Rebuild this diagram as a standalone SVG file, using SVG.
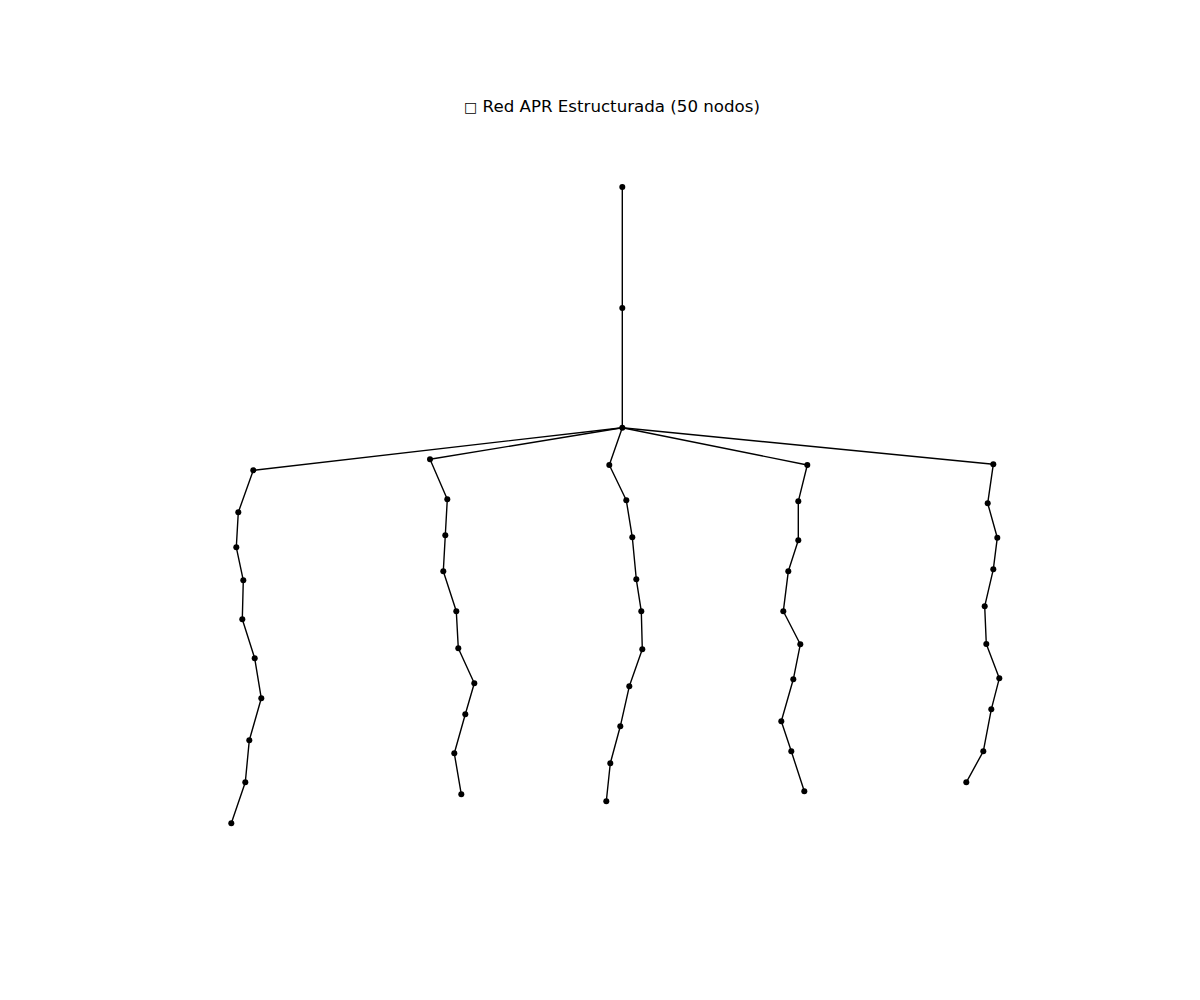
<svg xmlns="http://www.w3.org/2000/svg" width="1200" height="1000" viewBox="0 0 1200 1000">
<style>
.e{stroke:#000;stroke-width:1.4;fill:none;stroke-linejoin:round}
.n{fill:#000}
.t{font-family:"DejaVu Sans","Liberation Sans",sans-serif;font-size:16.67px;fill:#000}
</style>
<rect width="1200" height="1000" fill="#fff"/>
<text class="t" x="760" y="112" text-anchor="end"><tspan font-size="14">□</tspan> Red APR Estructurada (50 nodos)</text>
<g id="edges">
<polyline class="e" points="622.3,187 622.3,308 622.3,427.7"/>
<polyline class="e" points="622.3,427.7 253.3,470.3 238.3,512.3 236.3,547.3 243.3,580.3 242.3,619.3 254.7,658.3 261.3,698.3 249.3,740.3 245.3,782.3 231.3,823.3"/>
<polyline class="e" points="622.3,427.7 430,459.3 447.3,499.3 445.3,535.3 443.3,571.3 456.3,611.3 458.3,648.3 474.3,683.3 465.3,714.3 454.3,753.3 461.3,794.3"/>
<polyline class="e" points="622.3,427.7 609.3,465 626.3,500.3 632.3,537.3 636.3,579.3 641.3,611.3 642.3,649.3 629.3,686.3 620.3,726.3 610.3,763.3 606.3,801.3"/>
<polyline class="e" points="622.3,427.7 807.3,465 798.3,501.3 798.3,540.3 788.3,571.3 783.3,611.3 800.3,644.3 793.3,679.3 781.3,721.3 791.3,751.3 804.3,791.3"/>
<polyline class="e" points="622.3,427.7 993.3,464.3 987.7,503.3 997.3,537.7 993.3,569.3 984.7,606.3 986.3,644 999.3,678.3 991.3,709.3 983.3,751.3 966.3,782.3"/>
</g>
<g id="nodes">
<g id="n0"><circle class="n" cx="622.3" cy="187" r="3"/></g>
<g id="n1"><circle class="n" cx="622.3" cy="308" r="3"/></g>
<g id="n2"><circle class="n" cx="622.3" cy="427.7" r="3"/></g>
<g id="b1">
<circle class="n" cx="253.3" cy="470.3" r="3"/><circle class="n" cx="238.3" cy="512.3" r="3"/><circle class="n" cx="236.3" cy="547.3" r="3"/><circle class="n" cx="243.3" cy="580.3" r="3"/><circle class="n" cx="242.3" cy="619.3" r="3"/><circle class="n" cx="254.7" cy="658.3" r="3"/><circle class="n" cx="261.3" cy="698.3" r="3"/><circle class="n" cx="249.3" cy="740.3" r="3"/><circle class="n" cx="245.3" cy="782.3" r="3"/><circle class="n" cx="231.3" cy="823.3" r="3"/>
</g>
<g id="b2">
<circle class="n" cx="430" cy="459.3" r="3"/><circle class="n" cx="447.3" cy="499.3" r="3"/><circle class="n" cx="445.3" cy="535.3" r="3"/><circle class="n" cx="443.3" cy="571.3" r="3"/><circle class="n" cx="456.3" cy="611.3" r="3"/><circle class="n" cx="458.3" cy="648.3" r="3"/><circle class="n" cx="474.3" cy="683.3" r="3"/><circle class="n" cx="465.3" cy="714.3" r="3"/><circle class="n" cx="454.3" cy="753.3" r="3"/><circle class="n" cx="461.3" cy="794.3" r="3"/>
</g>
<g id="b3">
<circle class="n" cx="609.3" cy="465" r="3"/><circle class="n" cx="626.3" cy="500.3" r="3"/><circle class="n" cx="632.3" cy="537.3" r="3"/><circle class="n" cx="636.3" cy="579.3" r="3"/><circle class="n" cx="641.3" cy="611.3" r="3"/><circle class="n" cx="642.3" cy="649.3" r="3"/><circle class="n" cx="629.3" cy="686.3" r="3"/><circle class="n" cx="620.3" cy="726.3" r="3"/><circle class="n" cx="610.3" cy="763.3" r="3"/><circle class="n" cx="606.3" cy="801.3" r="3"/>
</g>
<g id="b4">
<circle class="n" cx="807.3" cy="465" r="3"/><circle class="n" cx="798.3" cy="501.3" r="3"/><circle class="n" cx="798.3" cy="540.3" r="3"/><circle class="n" cx="788.3" cy="571.3" r="3"/><circle class="n" cx="783.3" cy="611.3" r="3"/><circle class="n" cx="800.3" cy="644.3" r="3"/><circle class="n" cx="793.3" cy="679.3" r="3"/><circle class="n" cx="781.3" cy="721.3" r="3"/><circle class="n" cx="791.3" cy="751.3" r="3"/><circle class="n" cx="804.3" cy="791.3" r="3"/>
</g>
<g id="b5">
<circle class="n" cx="993.3" cy="464.3" r="3"/><circle class="n" cx="987.7" cy="503.3" r="3"/><circle class="n" cx="997.3" cy="537.7" r="3"/><circle class="n" cx="993.3" cy="569.3" r="3"/><circle class="n" cx="984.7" cy="606.3" r="3"/><circle class="n" cx="986.3" cy="644" r="3"/><circle class="n" cx="999.3" cy="678.3" r="3"/><circle class="n" cx="991.3" cy="709.3" r="3"/><circle class="n" cx="983.3" cy="751.3" r="3"/><circle class="n" cx="966.3" cy="782.3" r="3"/>
</g>
</g>
</svg>
